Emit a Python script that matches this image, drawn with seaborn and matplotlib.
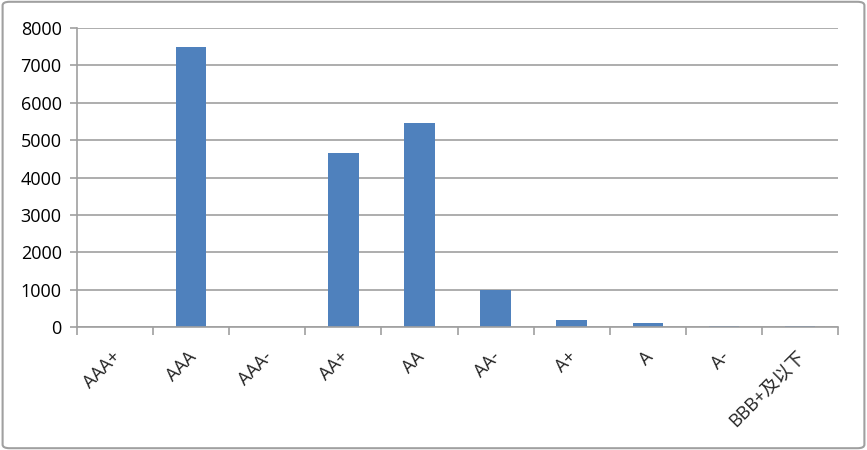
import matplotlib
matplotlib.use("Agg")
import matplotlib.pyplot as plt
import seaborn as sns
import pandas as pd
import numpy as np
from matplotlib.patches import FancyBboxPatch

categories = ["AAA+", "AAA", "AAA-", "AA+", "AA", "AA-", "A+", "A", "A-", "BBB+及以下"]
values = [0, 7490, 0, 4650, 5450, 1000, 190, 115, 40, 40]
yticks = [0, 1000, 2000, 3000, 4000, 5000, 6000, 7000, 8000]

sns.set_theme(style="white")
plt.rcParams['font.family'] = ['Open Sans', 'Noto Sans CJK SC', 'DejaVu Sans']

df = pd.DataFrame({"cat": categories, "val": values})

fig = plt.figure(figsize=(8.67, 4.5), dpi=100)
ax = fig.add_axes([77/867, 1-327/450, (838-77)/867, (327-28)/450])

sns.barplot(data=df, x="cat", y="val", ax=ax, color="#4F81BD", width=0.4,
            saturation=1, order=categories, linewidth=0, edgecolor="none")

ax.set_ylim(0, 8000)
ax.set_xlim(-0.5, len(categories)-0.5)
ax.set_yticks(yticks)
ax.set_yticklabels([str(t) for t in yticks], fontsize=13)
ax.yaxis.grid(True, color="#A0A0A0", linewidth=1.2)
ax.set_axisbelow(True)
ax.set_xlabel("")
ax.set_ylabel("")

for s in ["top", "right"]:
    ax.spines[s].set_visible(False)
for s in ["left", "bottom"]:
    ax.spines[s].set_color("#A0A0A0")
    ax.spines[s].set_linewidth(1.2)

ax.set_xticks(np.arange(-0.5, len(categories), 1.0))
ax.set_xticklabels([])
ax.set_xticks(np.arange(len(categories)) - 0.05, minor=True)
ax.set_xticklabels(categories, minor=True, rotation=45, ha="right",
                   rotation_mode="anchor", fontsize=13)
ax.tick_params(axis="x", which="major", direction="out", length=6, width=1.2,
               color="#A0A0A0", bottom=True)
ax.tick_params(axis="x", which="minor", length=0, pad=15)
ax.tick_params(axis="y", direction="out", length=5, width=1.2, color="#A0A0A0",
               left=True, pad=6, labelcolor="black")

border = FancyBboxPatch((0.003, 0.004), 0.994, 0.992, boxstyle="round,pad=0,rounding_size=0.008",
                        transform=fig.transFigure, fill=False, edgecolor="#A0A0A0",
                        linewidth=1.5)
fig.patches.append(border)

fig.savefig("out.png", dpi=100)
